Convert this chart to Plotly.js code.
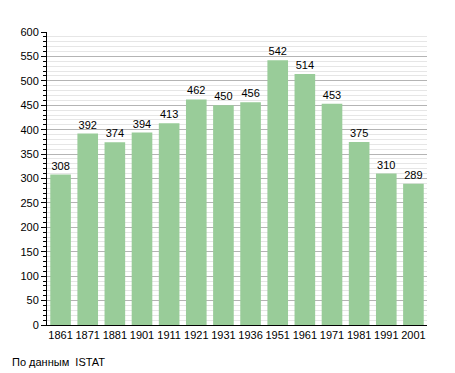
<!DOCTYPE html>
<html><head><meta charset="utf-8">
<script src="https://cdn.plot.ly/plotly-3.0.1.min.js"></script>
<style>body{margin:0;padding:0;background:#fff}#c{width:455px;height:373px}</style>
</head><body><div id="c"></div>
<script>
const years = ["1861","1871","1881","1901","1911","1921","1931","1936","1951","1961","1971","1981","1991","2001"];
const population = [308,392,374,394,413,462,450,456,542,514,453,375,310,289];
const sourceNote = "По данным  ISTAT";

Plotly.newPlot('c', [{
  type: 'bar',
  x: years,
  y: population,
  text: population.map(String),
  textposition: 'outside',
  textfont: {family: 'Liberation Sans, Arial, sans-serif', size: 11, color: '#000'},
  cliponaxis: false,
  marker: {color: '#99cc99', line: {width: 0}},
  width: 0.76,
  hoverinfo: 'none'
}], {
  width: 455, height: 373,
  margin: {l: 47, r: 28, t: 32, b: 48},
  paper_bgcolor: '#fff', plot_bgcolor: '#fff',
  font: {family: 'Liberation Sans, Arial, sans-serif', size: 11, color: '#000'},
  showlegend: false,
  xaxis: {
    type: 'category',
    showgrid: false,
    showline: true, linecolor: '#000', linewidth: 1,
    ticks: '', tickfont: {size: 11},
    fixedrange: true
  },
  yaxis: {
    range: [0, 600],
    dtick: 50,
    showgrid: true, gridcolor: '#b4b4b4', gridwidth: 1,
    showline: true, linecolor: '#000', linewidth: 1,
    ticks: 'outside', ticklen: 5, tickcolor: '#000',
    tickfont: {size: 11},
    zeroline: false,
    minor: {dtick: 10, showgrid: true, gridcolor: '#e6e6e6', gridwidth: 1, ticks: 'outside', ticklen: 3, tickcolor: '#000'},
    fixedrange: true
  },
  annotations: [{
    text: sourceNote, xref: 'paper', yref: 'paper', x: -0.097, y: -0.126,
    xanchor: 'left', yanchor: 'middle', showarrow: false,
    font: {size: 11, color: '#000'}
  }]
}, {displayModeBar: false, staticPlot: true});
</script></body></html>
